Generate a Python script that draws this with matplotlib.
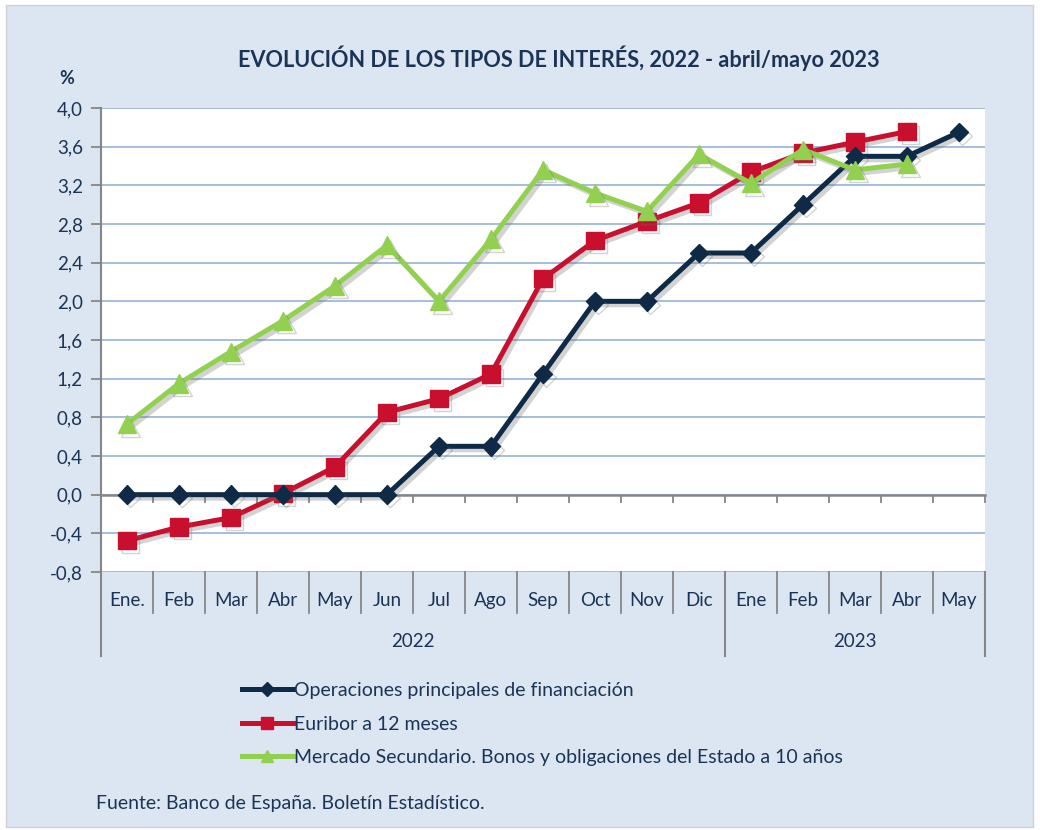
import matplotlib
matplotlib.use("Agg")
import matplotlib.pyplot as plt
import matplotlib.patheffects as pe
from matplotlib.patches import Rectangle
from matplotlib.lines import Line2D
from matplotlib.transforms import blended_transform_factory

plt.rcParams['font.family'] = ['Lato', 'DejaVu Sans']

# data
months = ['Ene.', 'Feb', 'Mar', 'Abr', 'May', 'Jun', 'Jul', 'Ago', 'Sep', 'Oct', 'Nov', 'Dic',
          'Ene', 'Feb', 'Mar', 'Abr', 'May']
years = ['2022', '2023']
year_len = [12, 5]

operaciones = [0, 0, 0, 0, 0, 0, 0.5, 0.5, 1.25, 2.0, 2.0, 2.5, 2.5, 3.0, 3.5, 3.5, 3.75]
euribor = [-0.477, -0.335, -0.237, 0.013, 0.287, 0.852, 0.992, 1.249, 2.233, 2.629, 2.828, 3.018,
           3.337, 3.534, 3.647, 3.757]
bonos = [0.73, 1.15, 1.48, 1.80, 2.16, 2.58, 2.00, 2.64, 3.36, 3.12, 2.93, 3.52,
         3.22, 3.57, 3.36, 3.42]

labels = ['Operaciones principales de financiación',
          'Euribor a 12 meses',
          'Mercado Secundario. Bonos y obligaciones del Estado a 10 años']
yticks = [-0.8, -0.4, 0.0, 0.4, 0.8, 1.2, 1.6, 2.0, 2.4, 2.8, 3.2, 3.6, 4.0]

navy = '#0E2A47'
red = '#C8102E'
green = '#92D050'
txt = '#1B3456'
grey = '#868686'
fs = 13.5

W, H = 1040, 830
fig = plt.figure(figsize=(W / 100, H / 100), dpi=100)
fig.patch.set_facecolor('white')
fig.patches.append(Rectangle((6 / W, 3 / H), 1027 / W, 822 / H, transform=fig.transFigure,
                             facecolor='#DCE6F2', edgecolor='#D0D0D0', lw=1, zorder=-10))

ax = fig.add_axes([101 / W, (H - 572) / H, 884 / W, 464 / H])
ax.set_facecolor('white')
ax.set_xlim(-0.5, len(months) - 0.5)
ax.set_ylim(-0.8, 4.0)

ax.set_yticks(yticks)
ax.set_yticklabels([('%.1f' % v).replace('.', ',') for v in yticks], fontsize=fs, color=txt)
ax.tick_params(axis='y', length=7, width=1.3, color=grey, pad=6)
ax.grid(axis='y', color='#95B3D7', lw=1.2)
ax.set_axisbelow(True)

for s in ['top', 'right']:
    ax.spines[s].set_visible(False)
ax.spines['left'].set_color(grey)
ax.spines['left'].set_linewidth(1.5)
ax.spines['bottom'].set_position(('data', 0))
ax.spines['bottom'].set_color(grey)
ax.spines['bottom'].set_linewidth(1.8)
ax.set_xticks([i - 0.5 for i in range(len(months) + 1)])
ax.set_xticklabels([])
ax.tick_params(axis='x', direction='out', length=6, width=1.3, color=grey)

shadow = [pe.SimpleLineShadow(offset=(2.5, -2.5), shadow_color='#6E6E6E', alpha=0.3), pe.Normal()]
x = list(range(len(months)))
ax.plot(x[:len(operaciones)], operaciones, color=navy, lw=3.6, marker='D', ms=9.5,
        path_effects=shadow, zorder=4, clip_on=False)
ax.plot(x[:len(euribor)], euribor, color=red, lw=3.6, marker='s', ms=12.5,
        path_effects=shadow, zorder=3, clip_on=False)
ax.plot(x[:len(bonos)], bonos, color=green, lw=3.6, marker='^', ms=13,
        path_effects=shadow, zorder=5, clip_on=False)

# category axis with month / year levels
tr = blended_transform_factory(ax.transData, ax.transAxes)
for i, m in enumerate(months):
    ax.text(i, -0.061, m, transform=tr, ha='center', va='center', fontsize=fs, color=txt)
for i in range(len(months) + 1):
    ax.plot([i - 0.5, i - 0.5], [0, -0.089], transform=tr, color=grey, lw=1.3, clip_on=False)
start = 0
for y, n in zip(years, year_len):
    ax.text(start - 0.5 + n / 2, -0.15, y, transform=tr, ha='center', va='center',
            fontsize=fs, color=txt)
    ax.plot([start - 0.5, start - 0.5], [0, -0.18], transform=tr, color=grey, lw=1.5, clip_on=False)
    start += n
ax.plot([start - 0.5, start - 0.5], [0, -0.18], transform=tr, color=grey, lw=1.5, clip_on=False)

fig.text(559 / W, 1 - 58 / H, 'EVOLUCIÓN DE LOS TIPOS DE INTERÉS, 2022 - abril/mayo 2023',
         ha='center', va='center', fontsize=15.6, fontweight='bold', color=txt)
fig.text(67 / W, 1 - 79 / H, '%', ha='center', va='center', fontsize=13, fontweight='bold', color=txt)

handles = [Line2D([], [], color=navy, lw=3.6, marker='D', ms=7),
           Line2D([], [], color=red, lw=3.6, marker='s', ms=9),
           Line2D([], [], color=green, lw=3.6, marker='^', ms=9)]
leg = fig.legend(handles=handles, labels=labels, loc='upper left',
                 bbox_to_anchor=(242 / W, 1 - 682 / H),
                 frameon=False, fontsize=14, handlelength=2.6, handletextpad=0.1,
                 labelspacing=0.85, borderaxespad=0, borderpad=0)
for t in leg.get_texts():
    t.set_color(txt)

fig.text(96 / W, 1 - 803 / H, 'Fuente: Banco de España. Boletín Estadístico.',
         ha='left', va='center', fontsize=14, color=txt)

fig.savefig('out.png', dpi=100, facecolor=fig.get_facecolor())
